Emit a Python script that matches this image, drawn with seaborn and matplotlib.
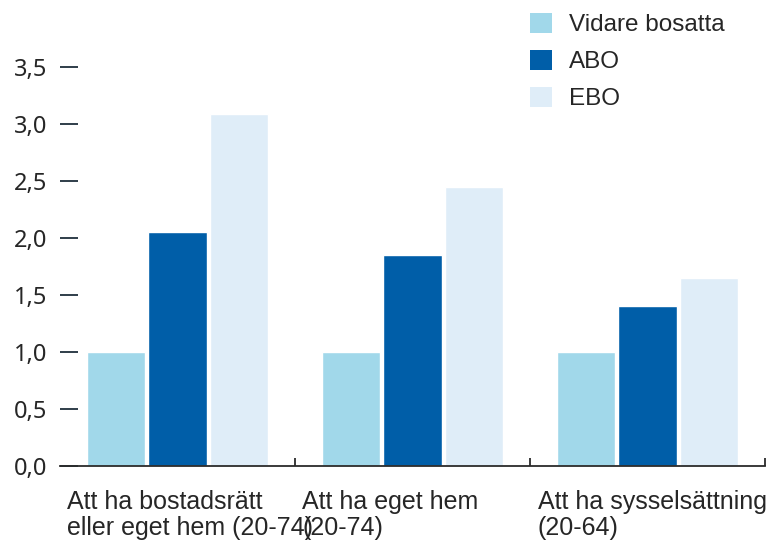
import pandas as pd
import matplotlib
matplotlib.use("Agg")
import matplotlib.pyplot as plt
import matplotlib.transforms as mtransforms
from matplotlib.patches import Patch
from matplotlib.ticker import FuncFormatter, FixedLocator
import seaborn as sns

# data
kategorier = ["Att ha bostadsrätt\neller eget hem (20-74)",
              "Att ha eget hem\n(20-74)",
              "Att ha sysselsättning\n(20-64)"]
grupper = ["Vidare bosatta", "ABO", "EBO"]
vidare = [1.0, 1.0, 1.0]
abo = [2.05, 1.85, 1.40]
ebo = [3.09, 2.45, 1.65]
farger = ["#A1D8EA", "#005EA8", "#DFEDF8"]

rows = []
for g, vals in zip(grupper, [vidare, abo, ebo]):
    for k, v in zip(kategorier, vals):
        rows.append({"kat": k, "grupp": g, "val": v})
df = pd.DataFrame(rows)

sns.set_style("white")
plt.rcParams['font.family'] = ['Liberation Sans', 'DejaVu Sans']

fig = plt.figure(figsize=(7.78, 5.42), dpi=100)
ax = fig.add_axes([60/778, 1-466/542, 705/778, (466-67)/542])

sns.barplot(data=df, x="kat", y="val", hue="grupp", palette=farger,
            width=0.78, gap=0.05, saturation=1, legend=False, ax=ax)

ax.set_xlim(-0.5, 2.5)
ax.set_ylim(0, 3.5)
ax.set_xlabel("")
ax.set_ylabel("")

for s in ["top", "right", "left"]:
    ax.spines[s].set_visible(False)
ax.spines["bottom"].set_color("#2b2b2b")
ax.spines["bottom"].set_linewidth(1.3)

# y axis
ax.set_yticks([0, 0.5, 1, 1.5, 2, 2.5, 3, 3.5])
ax.yaxis.set_major_formatter(FuncFormatter(lambda v, p: f"{v:.1f}".replace(".", ",")))
ax.tick_params(axis="y", direction="in", length=13, width=1.4, color="#2f3e4a",
               pad=9, labelsize=17, left=True)
for lab in ax.get_yticklabels():
    lab.set_fontfamily(["Noto Sans", "DejaVu Sans"])

# x axis: labels left aligned at group start, small ticks at group borders
ax.set_xticks([0, 1, 2])
ax.set_xticklabels(kategorier)
ax.tick_params(axis="x", which="major", length=0, pad=17, labelsize=18)
offset = mtransforms.ScaledTranslation(-1.10, 0, fig.dpi_scale_trans)
for lab in ax.get_xticklabels():
    lab.set_horizontalalignment("left")
    lab.set_linespacing(1.1)
    lab.set_transform(lab.get_transform() + offset)
ax.xaxis.set_minor_locator(FixedLocator([0.5, 1.5, 2.5]))
ax.tick_params(axis="x", which="minor", direction="in", length=6, width=1.3,
               color="#2b2b2b", bottom=True)

# legend
handles = [Patch(facecolor=c, edgecolor="none") for c in farger]
fig.legend(handles, grupper, loc="upper left", bbox_to_anchor=(530/778, 1-13/542),
           frameon=False, fontsize=17.5, handlelength=0.9, handleheight=0.9,
           handletextpad=0.7, labelspacing=0.55, borderpad=0, borderaxespad=0)

fig.savefig("out.png", dpi=100)
